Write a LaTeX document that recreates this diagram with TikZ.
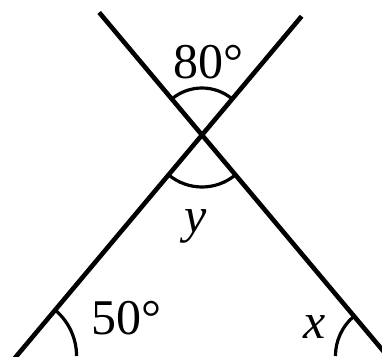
\documentclass[tikz,border=0pt]{standalone}
\usepackage{fontspec}
\setmainfont{Liberation Serif}
\usetikzlibrary{calc,angles}

\begin{document}
\begin{tikzpicture}[x=1pt,y=1pt,
  leg/.style={line width=4.6pt},
  anglearc/.style={draw,line width=3.2pt},
  anglelbl/.style={inner sep=0pt,font=\fontsize{50}{60}\selectfont}]
\clip (0,0) rectangle (382,356);
\coordinate (C) at (202,221);
\coordinate (T1) at ($(C)+(130:160)$);
\coordinate (T2) at ($(C)+(50:155)$);
\coordinate (B1) at ($(C)+(310:330)$);
\coordinate (B2) at ($(C)+(230:330)$);
\coordinate (L) at ($(C)+(230:288.5)$);
\coordinate (R) at ($(C)+(310:288.5)$);
\coordinate (Lr) at (150,0);
\coordinate (Rl) at (250,0);
\draw[leg] (T1) -- (B1);
\draw[leg] (T2) -- (B2);
\pic[anglearc,angle radius=47pt] {angle=T2--C--T1};
\pic[anglearc,angle radius=52pt] {angle=B2--C--B1};
\pic[anglearc,angle radius=60pt] {angle=Lr--L--C};
\pic[anglearc,angle radius=52pt] {angle=C--R--Rl};
\node[anglelbl] (a80) at (208,294) {80°};
\node[anglelbl] (a50) at (126,37.5) {50°};
\node[anglelbl] (ax) at (315,29) {\itshape x};
\node[anglelbl] (ay) at (196,129.5) {\itshape y};
\end{tikzpicture}
\end{document}
